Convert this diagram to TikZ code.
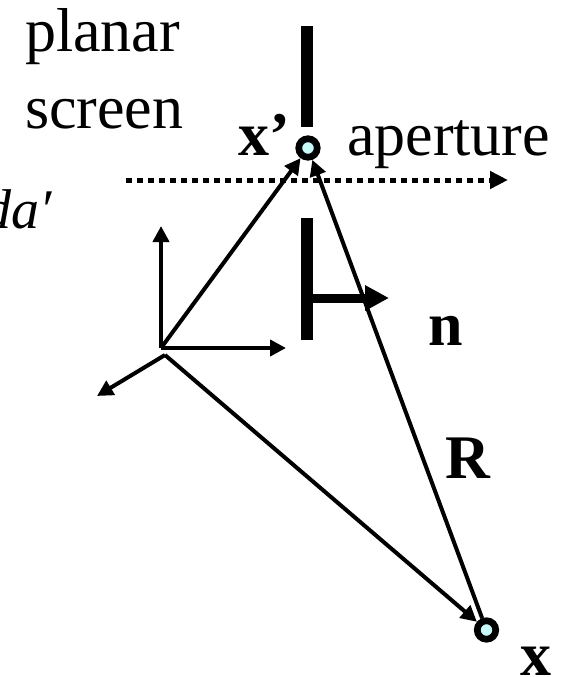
\documentclass[tikz,border=0pt]{standalone}
\usepackage{fontspec}
\setmainfont{Liberation Serif}
\usetikzlibrary{arrows.meta}
\definecolor{ptfill}{RGB}{200,250,250}
\begin{document}
\begin{tikzpicture}[x=1pt,y=-1pt,
  lbl/.style={inner sep=0pt, outer sep=0pt, anchor=base west, font=\fontsize{62}{70}\selectfont},
  blbl/.style={lbl, font=\fontsize{62}{70}\selectfont\bfseries},
  pt/.style={circle, draw=black, line width=6.7pt, fill=ptfill, minimum size=18.5pt, inner sep=0pt},
  thinarrow/.style={line width=4pt, -{Triangle[length=16pt,width=16pt]}},
  bar/.style={fill=black, inner sep=0pt, outer sep=0pt, minimum width=12pt},
]
\useasboundingbox (0,0) rectangle (565,677);
% screen bars
\node[bar, minimum height=101pt] (bar1) at (307,76.5) {};
\node[bar, minimum height=122pt] (bar2) at (307,279) {};
% dotted plane line
\coordinate (dl) at (126,180);
\coordinate (dr) at (508,180);
\draw[line width=5pt, dash pattern=on 5.5pt off 5.5pt, -{Triangle[length=18pt,width=17pt]}] (dl) -- (dr);
% normal arrow
\coordinate (ntip) at (389,298);
\draw[line width=9pt, -{Triangle[length=24pt,width=24pt]}] (bar2.east |- ntip) -- (ntip);
% points
\node[pt] (xp) at (308,148) {};
\node[pt] (xx) at (486.5,630) {};
% axes
\coordinate (o) at (161,348);
\coordinate (o2) at (165,355);
\coordinate (ez) at (161,226);
\coordinate (ex) at (286,348);
\coordinate (ey) at (97,396);
\draw[thinarrow] (o) -- (ez);
\draw[thinarrow] (o) -- (ex);
\draw[thinarrow] (o2) -- (ey);
\draw[thinarrow] (o) -- (xp);
\draw[thinarrow] (o2) -- (xx);
\draw[thinarrow] (xx) -- (xp.-70);
% labels
\node[lbl] (planar) at (25,52) {planar};
\node[lbl] (screen) at (25,128) {screen};
\node[lbl] (aperture) at (347,155) {aperture};
\node[blbl] (xplbl) at (238,155) {x’};
\node[lbl, anchor=base east, font=\fontsize{56}{60}\selectfont\itshape] (da) at (52,228) {da′};
\node[blbl] (nlbl) at (428,345) {n};
\node[blbl] (Rlbl) at (445,478) {R};
\node[blbl] (xlbl) at (520,675) {x};
\end{tikzpicture}
\end{document}
